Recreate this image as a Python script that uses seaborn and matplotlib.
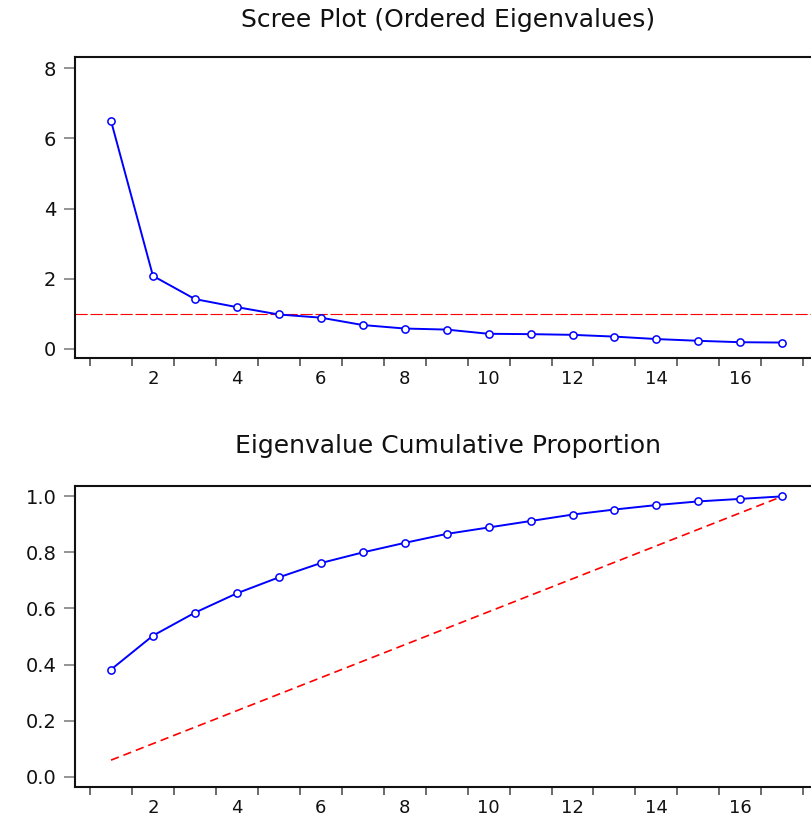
import matplotlib
matplotlib.use("Agg")
import matplotlib.pyplot as plt
import seaborn as sns
import numpy as np
import pandas as pd

# ---- data ----
components = list(range(1, 18))
eigenvalues = [6.50, 2.08, 1.42, 1.19, 0.98, 0.89, 0.68, 0.58, 0.55,
               0.43, 0.42, 0.40, 0.35, 0.28, 0.23, 0.19, 0.18]
cumulative = [0.382, 0.503, 0.585, 0.654, 0.711, 0.762, 0.800, 0.834, 0.866,
              0.889, 0.912, 0.935, 0.953, 0.969, 0.982, 0.991, 1.000]
equal_share = [k / 17 for k in components]
kaiser_line = 1.0
top_title = "Scree Plot (Ordered Eigenvalues)"
bottom_title = "Eigenvalue Cumulative Proportion"
top_yticks = [0, 2, 4, 6, 8]
bottom_yticks = [0.0, 0.2, 0.4, 0.6, 0.8, 1.0]
xlabels = [2, 4, 6, 8, 10, 12, 14, 16]

sns.set_style("white")
plt.rcParams["font.family"] = ["DejaVu Sans"]

W, H = 811, 818
fig = plt.figure(figsize=(W / 100, H / 100), dpi=100)

def px_axes(left, top, right, bottom):
    return fig.add_axes([left / W, 1 - bottom / H, (right - left) / W, (bottom - top) / H])

ax1 = px_axes(75, 57, 815, 358)
ax2 = px_axes(75, 486, 815, 787)

df_top = pd.DataFrame({"k": components, "v": eigenvalues})
df_bot = pd.DataFrame({"k": components, "c": cumulative, "e": equal_share})

line_kw = dict(color="#0000FF", linewidth=1.4, marker="o", markersize=5.2,
               markerfacecolor="white", markeredgecolor="#0000FF", markeredgewidth=1.1)

ax1.axhline(kaiser_line, color="#FF0000", linewidth=0.8, dashes=(11, 2.5), zorder=1)
sns.lineplot(data=df_top, x="k", y="v", ax=ax1, zorder=3, **line_kw)

sns.lineplot(data=df_bot, x="k", y="e", ax=ax2, color="#FF0000", linewidth=1.2,
             dashes=False, zorder=1).lines[-1].set_dashes((5, 3))
sns.lineplot(data=df_bot, x="k", y="c", ax=ax2, zorder=3, **line_kw)

for ax, yt, ylim, fmt in [(ax1, top_yticks, (-0.26, 8.32), "{:d}"),
                          (ax2, bottom_yticks, (-0.037, 1.037), "{:.1f}")]:
    ax.set_xlim(0.142, 17.78)
    ax.set_ylim(*ylim)
    ax.set_yticks(yt)
    ax.set_yticklabels([fmt.format(v) for v in yt])
    ax.set_xticks(np.arange(0.5, 18.0, 1.0))
    ax.set_xticklabels([])
    ax.set_xticks(xlabels, minor=True)
    ax.set_xticklabels([str(v) for v in xlabels], minor=True)
    ax.tick_params(axis="x", which="major", direction="out", length=5.5, width=1.1,
                   color="#444444", bottom=True)
    ax.tick_params(axis="x", which="minor", length=0, pad=8.5, labelsize=13, bottom=True)
    ax.tick_params(axis="y", direction="out", length=8, width=1.1, color="#777777",
                   pad=5.5, labelsize=14, left=True)
    ax.set_xlabel("")
    ax.set_ylabel("")
    for s in ["left", "bottom", "top"]:
        ax.spines[s].set_visible(True)
        ax.spines[s].set_color("#111111")
        ax.spines[s].set_linewidth(1.5)
    ax.spines["right"].set_visible(False)
    ax.grid(False)
    for lab in ax.get_xticklabels(minor=True) + ax.get_yticklabels():
        lab.set_color("#111111")

fig.text(448 / W, 1 - 20 / H, top_title, ha="center", va="center", fontsize=18, color="#111111")
fig.text(448 / W, 1 - 446 / H, bottom_title, ha="center", va="center", fontsize=18, color="#111111")

fig.savefig("out.png", dpi=100, facecolor="white")
